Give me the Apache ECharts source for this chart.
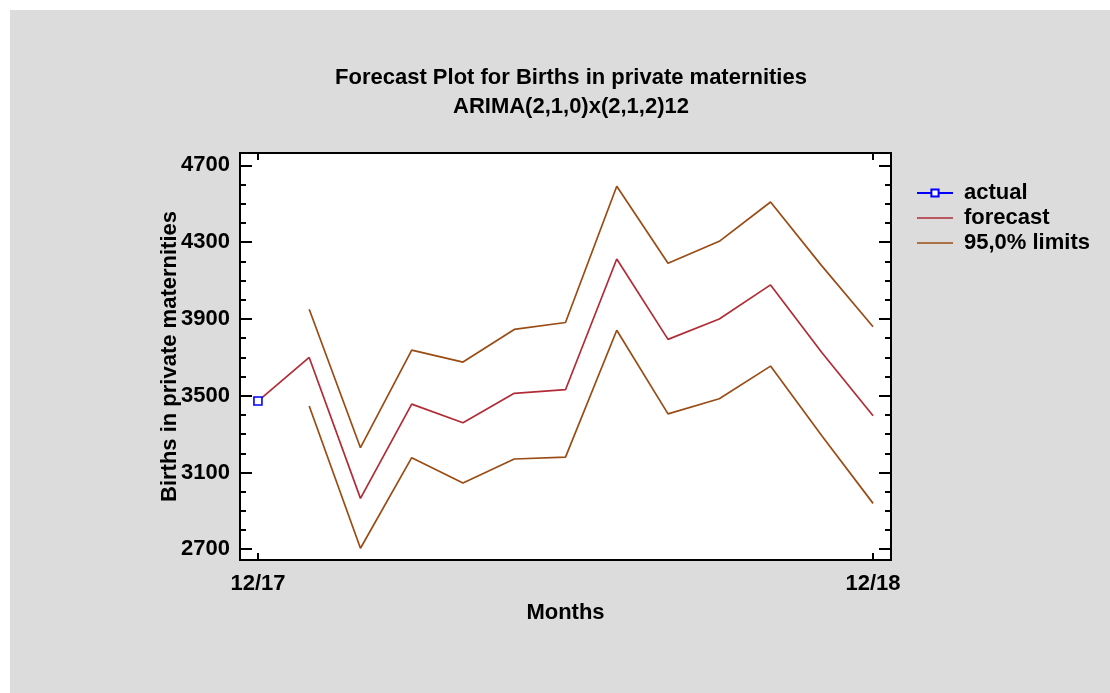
<!DOCTYPE html>
<html>
<head>
<meta charset="utf-8">
<title>Forecast Plot for Births in private maternities</title>
<script src="https://cdn.jsdelivr.net/npm/echarts@6/dist/echarts.min.js"></script>
<style>
  html, body { margin: 0; padding: 0; background: #ffffff; }
  #chart { width: 1110px; height: 693px; }
</style>
</head>
<body>
<div id="chart"></div>
<script>
// Month positions: 0 = 12/17 ... 12 = 12/18
const months = [0, 1, 2, 3, 4, 5, 6, 7, 8, 9, 10, 11, 12];
const monthLabels = { 0: '12/17', 12: '12/18' };

// Observed value (only the last observed month)
const actual = [3472];

// Forecast path, starting from the last observed value
const forecast = [3472, 3699, 2965, 3456, 3359, 3512, 3531, 4212, 3793, 3899, 4077, 3725, 3395];

// 95% prediction limits for months 1..12
const upperLimit = [3950, 3229, 3737, 3675, 3845, 3881, 4591, 4190, 4304, 4509, 4176, 3859];
const lowerLimit = [3446, 2705, 3177, 3045, 3170, 3180, 3841, 3405, 3484, 3654, 3291, 2939];

// Axis ticks
const yMajorTicks = [2700, 3100, 3500, 3900, 4300, 4700];
const yMinorTicks = [2700, 2800, 2900, 3000, 3100, 3200, 3300, 3400, 3500, 3600, 3700, 3800, 3900, 4000, 4100, 4200, 4300, 4400, 4500, 4600, 4700];
const xTicks = [0, 12];

const Y_MIN = 2644, Y_MAX = 4764;
const X_MIN = -0.35, X_MAX = 12.35;

const FONT = 'Liberation Sans, Arial, sans-serif';
const FS = 22;
const C_ACTUAL = '#0000ff';
const C_FORECAST = '#b12c36';
const C_LIMITS = '#9a4c14';
const LW = 1.7;
const LINE_ICON = 'path://M0,0H36V1.7H0Z';

const pairs = (xs, ys) => ys.map((v, i) => [xs[i], v]);

function yAxisDef(position, ticks, len, showLabel) {
  return {
    type: 'value', position: position, min: Y_MIN, max: Y_MAX,
    axisLine: { show: true, onZero: false, lineStyle: { color: '#000', width: 2 } },
    axisTick: { show: true, inside: true, length: len, customValues: ticks, lineStyle: { color: '#000', width: 2 } },
    axisLabel: showLabel ? {
      show: true, customValues: yMajorTicks, margin: 10,
      color: '#000', fontFamily: FONT, fontWeight: 'bold', fontSize: FS,
      formatter: v => String(Math.round(v))
    } : { show: false },
    splitLine: { show: false }
  };
}

function xAxisDef(position, showLabel) {
  return {
    type: 'value', position: position, min: X_MIN, max: X_MAX,
    axisLine: { show: true, onZero: false, lineStyle: { color: '#000', width: 2 } },
    axisTick: { show: true, inside: true, length: 7, customValues: xTicks, lineStyle: { color: '#000', width: 2 } },
    axisLabel: showLabel ? {
      show: true, customValues: xTicks, margin: 13,
      color: '#000', fontFamily: FONT, fontWeight: 'bold', fontSize: FS,
      formatter: v => monthLabels[Math.round(v)] || ''
    } : { show: false },
    splitLine: { show: false }
  };
}

const chart = echarts.init(document.getElementById('chart'), null, { renderer: 'canvas' });

chart.setOption({
  animation: false,
  backgroundColor: '#ffffff',
  graphic: [{
    type: 'rect', z: -10, silent: true,
    shape: { x: 10, y: 10, width: 1100, height: 683 },
    style: { fill: '#dcdcdc' }
  }],
  title: {
    text: 'Forecast Plot for Births in private maternities\nARIMA(2,1,0)x(2,1,2)12',
    left: 566, top: 58, textAlign: 'center',
    textStyle: { color: '#000', fontFamily: FONT, fontWeight: 'bold', fontSize: FS, lineHeight: 29 }
  },
  legend: {
    orient: 'vertical', left: 911, top: 177,
    itemWidth: 36, itemHeight: 9, itemGap: 3,
    data: [
      { name: 'actual' },
      { name: 'forecast', icon: LINE_ICON },
      { name: '95,0% limits', icon: LINE_ICON }
    ],
    textStyle: { color: '#000', fontFamily: FONT, fontWeight: 'bold', fontSize: FS, lineHeight: 22, padding: [0, 0, 0, 6] }
  },
  grid: {
    left: 240, top: 153, right: 219, bottom: 133,
    show: true, backgroundColor: '#ffffff', borderWidth: 0
  },
  xAxis: [
    Object.assign(xAxisDef('bottom', true), {
      name: 'Months', nameLocation: 'middle', nameGap: 42, nameMoveOverlap: false,
      nameTextStyle: { color: '#000', fontFamily: FONT, fontWeight: 'bold', fontSize: FS }
    }),
    xAxisDef('top', false)
  ],
  yAxis: [
    Object.assign(yAxisDef('left', yMajorTicks, 12, true), {
      name: 'Births in private maternities', nameLocation: 'middle', nameGap: 59, nameMoveOverlap: false,
      nameTextStyle: { color: '#000', fontFamily: FONT, fontWeight: 'bold', fontSize: FS }
    }),
    yAxisDef('left', yMinorTicks, 6, false),
    yAxisDef('right', yMajorTicks, 12, false),
    yAxisDef('right', yMinorTicks, 6, false)
  ],
  series: [{
    name: '95,0% limits', type: 'line', data: pairs(months.slice(1), upperLimit),
    symbol: 'none', lineStyle: { color: C_LIMITS, width: LW }, itemStyle: { color: C_LIMITS }
  }, {
    name: '95,0% limits', type: 'line', data: pairs(months.slice(1), lowerLimit),
    symbol: 'none', lineStyle: { color: C_LIMITS, width: LW }, itemStyle: { color: C_LIMITS }
  }, {
    name: 'forecast', type: 'line', data: pairs(months, forecast),
    symbol: 'none', lineStyle: { color: C_FORECAST, width: LW }, itemStyle: { color: C_FORECAST }
  }, {
    name: 'actual', type: 'line', data: pairs(months, actual),
    symbol: 'rect', symbolSize: 8, z: 5,
    lineStyle: { color: C_ACTUAL, width: LW },
    itemStyle: { color: '#ffffff', borderColor: C_ACTUAL, borderWidth: 1.6 }
  }]
});
</script>
</body>
</html>
